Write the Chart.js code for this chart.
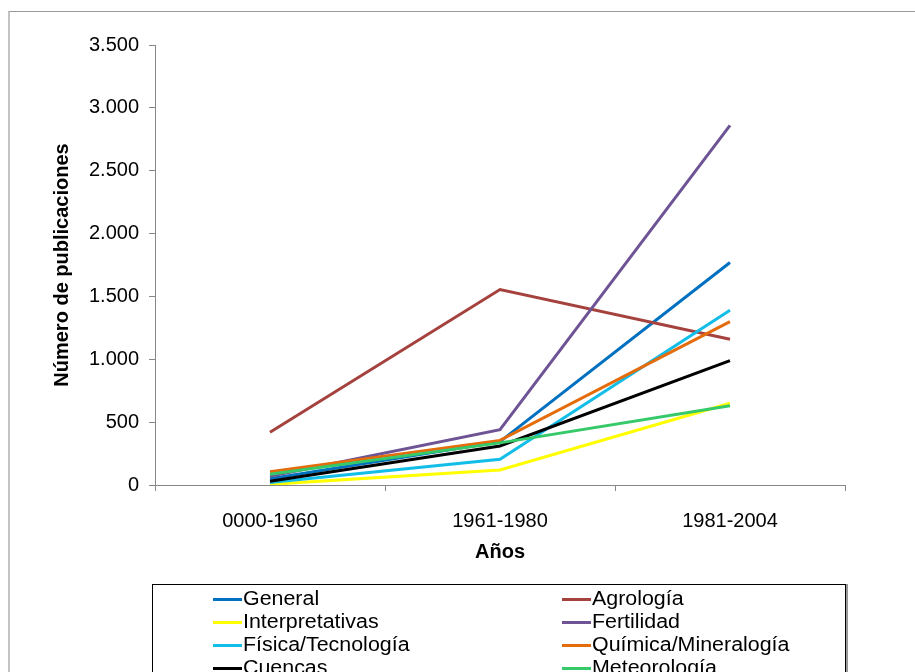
<!DOCTYPE html>
<html>
<head>
<meta charset="utf-8">
<script src="https://cdn.jsdelivr.net/npm/chart.js@4"></script>
<style>
  body { margin: 0; background: #fff; font-family: "Liberation Sans", Arial, sans-serif; }
  #wrap { position: relative; width: 915px; height: 672px; overflow: hidden; }
  #frame { position: absolute; left: 8px; top: 11px; width: 1000px; height: 700px;
           border-left: 2px solid #c4c4c4; border-top: 1px solid #999; }
  canvas { position: absolute; left: 0; top: 0; }
  #legend { position: absolute; left: 152px; top: 584px; width: 692px; height: 120px;
            border: 1px solid #000; box-shadow: 2px 0 0 #999; background: #fff; }
  .item { position: absolute; font-size: 20px; line-height: 23px; color: #000; white-space: nowrap; }
  .item span { display: inline-block; width: 29px; height: 3px; vertical-align: middle; margin-right: 1px; }
  .item b { font-weight: normal; display: inline-block; transform: scaleX(1.07); transform-origin: left center; }
</style>
</head>
<body>
<div id="wrap">
  <div id="frame"></div>
  <canvas id="lineChart" width="915" height="672"></canvas>
  <div id="legend"></div>
</div>
<script>
// Datos
var categorias = ['0000-1960', '1961-1980', '1981-2004'];
var general = [50, 345, 1770];
var agrologia = [420, 1555, 1160];
var interpretativas = [5, 120, 650];
var fertilidad = [70, 440, 2860];
var fisica = [20, 205, 1390];
var quimica = [105, 355, 1300];
var cuencas = [30, 310, 990];
var meteorologia = [85, 335, 630];

var yTickValues = [0, 500, 1000, 1500, 2000, 2500, 3000, 3500];
var yTickLabels = ['0', '500', '1.000', '1.500', '2.000', '2.500', '3.000', '3.500'];

var series = [
    { label: 'General', data: general, color: '#0070C0' },
    { label: 'Agrología', data: agrologia, color: '#A5423E' },
    { label: 'Interpretativas', data: interpretativas, color: '#FFFF00' },
    { label: 'Fertilidad', data: fertilidad, color: '#6E5494' },
    { label: 'Física/Tecnología', data: fisica, color: '#12BDE8' },
    { label: 'Química/Mineralogía', data: quimica, color: '#E46C0A' },
    { label: 'Cuencas', data: cuencas, color: '#000000' },
    { label: 'Meteorología', data: meteorologia, color: '#35C96A' }
];

var datasets = series.map(function(s, i) {
    return {
        label: s.label,
        data: s.data,
        borderColor: s.color,
        backgroundColor: s.color,
        borderWidth: 3,
        pointRadius: 0,
        tension: 0,
        order: series.length - i
    };
});

var font = { family: '"Liberation Sans", Arial, sans-serif', size: 20 };
var fontBold = { family: '"Liberation Sans", Arial, sans-serif', size: 20, weight: 'bold' };

var ctx = document.getElementById('lineChart').getContext('2d');
var myChart = new Chart(ctx, {
    type: 'line',
    data: { labels: categorias, datasets: datasets },
    options: {
        responsive: false,
        animation: false,
        layout: { padding: { left: 0, top: 45, right: 70, bottom: 97 } },
        plugins: { legend: { display: false }, tooltip: { enabled: false } },
        scales: {
            x: {
                offset: true,
                afterFit: function(scale) { scale.height = 90; },
                grid: { offset: true, drawOnChartArea: false, drawTicks: true, tickLength: 6, color: '#888' },
                border: { color: '#888', width: 1 },
                ticks: { font: font, color: '#000', padding: 18, maxRotation: 0 },
                title: { display: true, text: 'Años', font: fontBold, color: '#000', padding: { top: 0, bottom: 11 } }
            },
            y: {
                min: 0,
                max: 3500,
                afterFit: function(scale) { scale.width = 155; },
                afterBuildTicks: function(scale) {
                    scale.ticks = yTickValues.map(function(v) { return { value: v }; });
                },
                grid: { drawOnChartArea: false, drawTicks: true, tickLength: 6, color: '#888' },
                border: { color: '#888', width: 1 },
                ticks: {
                    font: font,
                    color: '#000',
                    padding: 10,
                    callback: function(value) {
                        var idx = yTickValues.indexOf(value);
                        return idx >= 0 ? yTickLabels[idx] : '';
                    }
                },
                title: { display: true, text: 'Número de publicaciones', font: fontBold, color: '#000', padding: { top: 50, bottom: 0 } }
            }
        }
    }
});

// Leyenda en dos columnas
var legend = document.getElementById('legend');
series.forEach(function(s, i) {
    var col = i % 2;
    var row = Math.floor(i / 2);
    var div = document.createElement('div');
    div.className = 'item';
    div.style.left = (col === 0 ? 60 : 409) + 'px';
    div.style.top = (2 + row * 23) + 'px';
    div.innerHTML = '<span style="background:' + s.color + '"></span><b>' + s.label + '</b>';
    legend.appendChild(div);
});
</script>
</body>
</html>
